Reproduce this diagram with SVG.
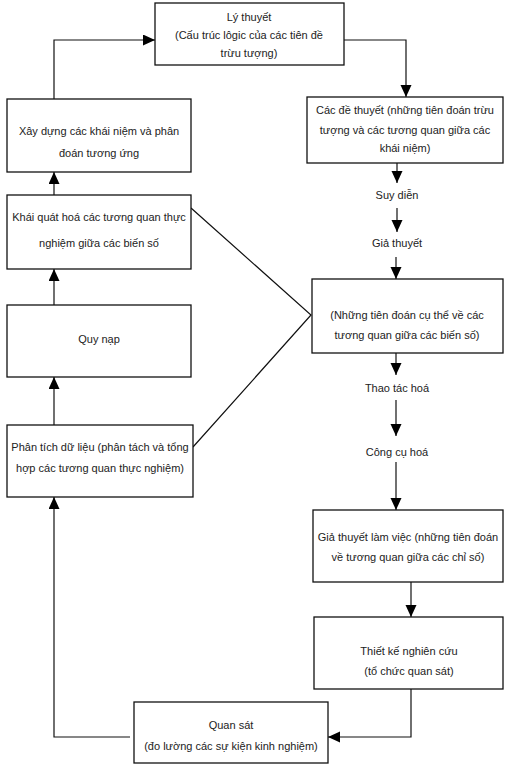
<svg xmlns="http://www.w3.org/2000/svg" width="512" height="768" viewBox="0 0 512 768">
<style>
.box{fill:#fff;stroke:#111;stroke-width:1.3}
.t{font-family:"Liberation Sans",Arial,sans-serif;font-size:11px;fill:#222;text-anchor:middle}
.c{fill:none;stroke:#111;stroke-width:1.2}
</style>
<defs>
<marker id="ah" markerWidth="13" markerHeight="12" refX="12" refY="5.5" orient="auto" markerUnits="userSpaceOnUse">
<path d="M0,0 L12,5.5 L0,11 Z" fill="#000"/>
</marker>
</defs>
<rect width="512" height="768" fill="#fff"/>
<g id="connectors">
<path class="c" d="M54,99 V40 H155" marker-end="url(#ah)"/>
<path class="c" d="M344,40 H406 V97" marker-end="url(#ah)"/>
<path class="c" d="M397,163 V183" marker-end="url(#ah)"/>
<path class="c" d="M397,208 V232" marker-end="url(#ah)"/>
<path class="c" d="M396,257 V279" marker-end="url(#ah)"/>
<path class="c" d="M396,353 V375" marker-end="url(#ah)"/>
<path class="c" d="M396,400 V436" marker-end="url(#ah)"/>
<path class="c" d="M396,462 V510" marker-end="url(#ah)"/>
<path class="c" d="M411,582 V617" marker-end="url(#ah)"/>
<path class="c" d="M411,689 V737 H328" marker-end="url(#ah)"/>
<path class="c" d="M130,737 H54 V497" marker-end="url(#ah)"/>
<path class="c" d="M54,425 V377" marker-end="url(#ah)"/>
<path class="c" d="M54,305 V269" marker-end="url(#ah)"/>
<path class="c" d="M54,195 V172" marker-end="url(#ah)"/>
<path class="c" d="M191,208 L311,315 L193,447"/>
</g>
<g id="ly-thuyet">
<rect class="box" x="155" y="3" width="189" height="62"/>
<text class="t" x="249" y="21">Lý thuyết</text>
<text class="t" x="249" y="39">(Cấu trúc lôgic của các tiên đề</text>
<text class="t" x="249" y="57">trừu tượng)</text>
</g>
<g id="cac-de-thuyet">
<rect class="box" x="307" y="97" width="196" height="66"/>
<text class="t" x="405" y="114">Các đề thuyết (những tiên đoán trừu</text>
<text class="t" x="405" y="134">tượng và các tương quan giữa các</text>
<text class="t" x="405" y="152">khái niệm)</text>
</g>
<g id="suy-dien"><text class="t" x="397" y="199">Suy diễn</text></g>
<g id="gia-thuyet"><text class="t" x="397" y="247">Giả thuyết</text></g>
<g id="nhung-tien-doan">
<rect class="box" x="312" y="279" width="191" height="74"/>
<text class="t" x="407" y="319">(Những tiên đoán cụ thể về các</text>
<text class="t" x="407" y="339">tương quan giữa các biến số)</text>
</g>
<g id="thao-tac-hoa"><text class="t" x="397" y="392">Thao tác hoá</text></g>
<g id="cong-cu-hoa"><text class="t" x="397" y="456">Công cụ hoá</text></g>
<g id="gia-thuyet-lam-viec">
<rect class="box" x="313" y="510" width="190" height="72"/>
<text class="t" x="408" y="541">Giả thuyết làm việc (những tiên đoán</text>
<text class="t" x="408" y="561">về tương quan giữa các chỉ số)</text>
</g>
<g id="thiet-ke">
<rect class="box" x="314" y="617" width="189" height="72"/>
<text class="t" x="409" y="655">Thiết kế nghiên cứu</text>
<text class="t" x="409" y="675">(tổ chức quan sát)</text>
</g>
<g id="quan-sat">
<rect class="box" x="134" y="702" width="194" height="61"/>
<text class="t" x="231" y="729">Quan sát</text>
<text class="t" x="231" y="750">(đo lường các sự kiện  kinh nghiệm)</text>
</g>
<g id="phan-tich">
<rect class="box" x="7" y="425" width="186" height="72"/>
<text class="t" x="100" y="451">Phân tích dữ liệu (phân tách và tổng</text>
<text class="t" x="100" y="472">hợp các tương quan thực nghiệm)</text>
</g>
<g id="quy-nap">
<rect class="box" x="7" y="305" width="184" height="72"/>
<text class="t" x="99" y="343">Quy nạp</text>
</g>
<g id="khai-quat">
<rect class="box" x="7" y="195" width="184" height="74"/>
<text class="t" x="99" y="221">Khái quát hoá các tương quan thực</text>
<text class="t" x="99" y="247">nghiệm giữa các biến số</text>
</g>
<g id="xay-dung">
<rect class="box" x="7" y="99" width="184" height="73"/>
<text class="t" x="99" y="135">Xây dựng các khái niệm và phân</text>
<text class="t" x="99" y="157">đoán tương ứng</text>
</g>
</svg>
